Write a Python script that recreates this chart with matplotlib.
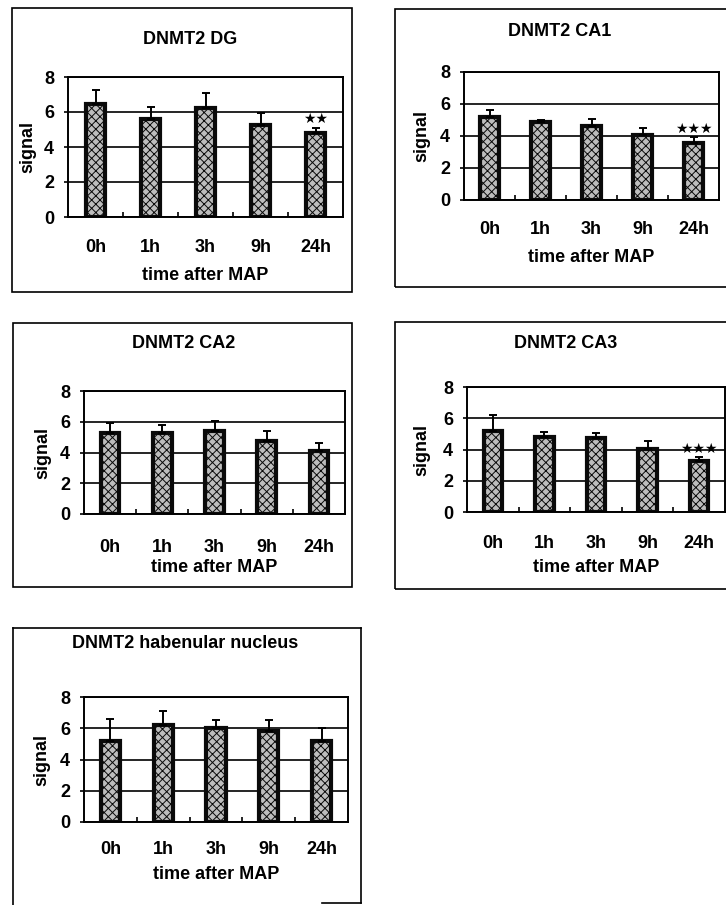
import numpy as np
import matplotlib
matplotlib.use("Agg")
import matplotlib.pyplot as plt
from matplotlib.patches import Rectangle
from matplotlib.lines import Line2D

plt.rcParams['font.family'] = ['Liberation Sans', 'DejaVu Sans']
plt.rcParams['font.weight'] = 'bold'
plt.rcParams['hatch.linewidth'] = 0.7

# ---- data: mean signal and upper error per time point ----
times = ["0h", "1h", "3h", "9h", "24h"]
yticks = [0, 2, 4, 6, 8]

dg_mean = [6.48, 5.58, 6.25, 5.28, 4.80]
dg_err = [0.76, 0.71, 0.85, 0.66, 0.29]

ca1_mean = [5.16, 4.89, 4.64, 4.06, 3.58]
ca1_err = [0.49, 0.14, 0.43, 0.47, 0.37]

ca2_mean = [5.30, 5.30, 5.41, 4.76, 4.08]
ca2_err = [0.64, 0.49, 0.66, 0.65, 0.51]

ca3_mean = [5.19, 4.83, 4.72, 4.04, 3.28]
ca3_err = [1.02, 0.32, 0.32, 0.51, 0.27]

hab_mean = [5.18, 6.18, 6.01, 5.82, 5.18]
hab_err = [1.39, 0.90, 0.49, 0.73, 0.83]

titles = ["DNMT2 DG", "DNMT2 CA1", "DNMT2 CA2", "DNMT2 CA3",
          "DNMT2 habenular nucleus"]
stars = ["\u2605\u2605", "\u2605\u2605\u2605", "", "\u2605\u2605\u2605", ""]

W, H = 726, 905
fig = plt.figure(figsize=(W / 100, H / 100), dpi=100)


def fbox(l, t, r, b):
    return [l / W, 1 - b / H, (r - l) / W, (b - t) / H]


# panel layout in pixels: axes box, outer frame, title position, label offsets
panels = [
    dict(ax=(68, 77, 343, 217), frame=(12, 8, 352, 292), title=(190, 40),
         tick=31, xlab=58, ylab=40),
    dict(ax=(464, 72, 719, 200), frame=(395, 9, 740, 287), title=(560, 32),
         tick=30, xlab=57, ylab=42),
    dict(ax=(84, 391, 345, 514), frame=(13, 323, 352, 587), title=(184, 343),
         tick=34, xlab=53, ylab=41),
    dict(ax=(467, 387, 725, 512), frame=(395, 322, 740, 589), title=(566, 343),
         tick=31, xlab=55, ylab=45),
    dict(ax=(84, 697, 348, 822), frame=None, title=(185, 643),
         tick=27, xlab=52, ylab=42),
]
means = [dg_mean, ca1_mean, ca2_mean, ca3_mean, hab_mean]
errs = [dg_err, ca1_err, ca2_err, ca3_err, hab_err]

FS = 13
x = np.arange(len(times))

for p, m, e, ttl, st in zip(panels, means, errs, titles, stars):
    l, t, r, b = p["ax"]
    ax = fig.add_axes(fbox(l, t, r, b))
    ax.set_xlim(-0.5, len(times) - 0.5)
    ax.set_ylim(0, 8)
    ax.set_yticks(yticks)
    ax.yaxis.grid(True, color="black", linewidth=1.2)
    ax.set_axisbelow(True)

    ax.bar(x, m, width=0.36, color="#bdbdbd", edgecolor="#0a0a0a",
           linewidth=3.0, hatch="xxxx", zorder=2)
    ax.errorbar(x, m, yerr=[np.zeros(len(m)), e], fmt="none", ecolor="black",
                elinewidth=1.4, capsize=3, capthick=1.4, zorder=3)
    if st:
        i = len(times) - 1
        ax.text(x[i], m[i] + e[i] + 0.5, st, ha="center", va="center",
                fontsize=10, family="DejaVu Sans", color="black")

    for s in ax.spines.values():
        s.set_linewidth(1.4)
    ax.set_xticks(x)
    ax.set_xticklabels(times)
    ax.set_xticks(x[:-1] + 0.5, minor=True)
    ax.tick_params(axis="x", which="major", length=0, labelsize=FS)
    ax.tick_params(axis="x", which="minor", direction="in", length=3.5,
                   width=1.2)
    ax.tick_params(axis="y", direction="out", length=3, width=1.2,
                   labelsize=FS, pad=7)
    for lab in ax.get_xticklabels():
        lab.set_verticalalignment("center")
    ax.tick_params(axis="x", which="major", pad=p["tick"] * 0.72)

    hpx = b - t
    wpx = r - l
    ax.set_xlabel("time after MAP", fontsize=FS, fontweight="bold", va="center")
    ax.xaxis.set_label_coords(0.5, -p["xlab"] / hpx)
    ax.set_ylabel("signal", fontsize=FS, fontweight="bold", va="center")
    ax.yaxis.set_label_coords(-p["ylab"] / wpx, 0.5)

    tx, ty = p["title"]
    fig.text(tx / W, 1 - ty / H, ttl, ha="center", va="center",
             fontsize=FS, fontweight="bold")

    if p["frame"] is not None:
        fl, ft, fr, fb = p["frame"]
        fig.patches.append(Rectangle((fl / W, 1 - fb / H), (fr - fl) / W,
                                     (fb - ft) / H, fill=False, lw=1.2,
                                     edgecolor="black",
                                     transform=fig.transFigure))

# open frame around the last panel
def seg(x0, y0, x1, y1):
    fig.lines.append(Line2D([x0 / W, x1 / W], [1 - y0 / H, 1 - y1 / H],
                            lw=1.2, color="black", transform=fig.transFigure))


seg(13, 628, 361, 628)
seg(13, 628, 13, 905)
seg(361, 628, 361, 903)
seg(322, 903, 361, 903)

fig.savefig("out.png", dpi=100)
